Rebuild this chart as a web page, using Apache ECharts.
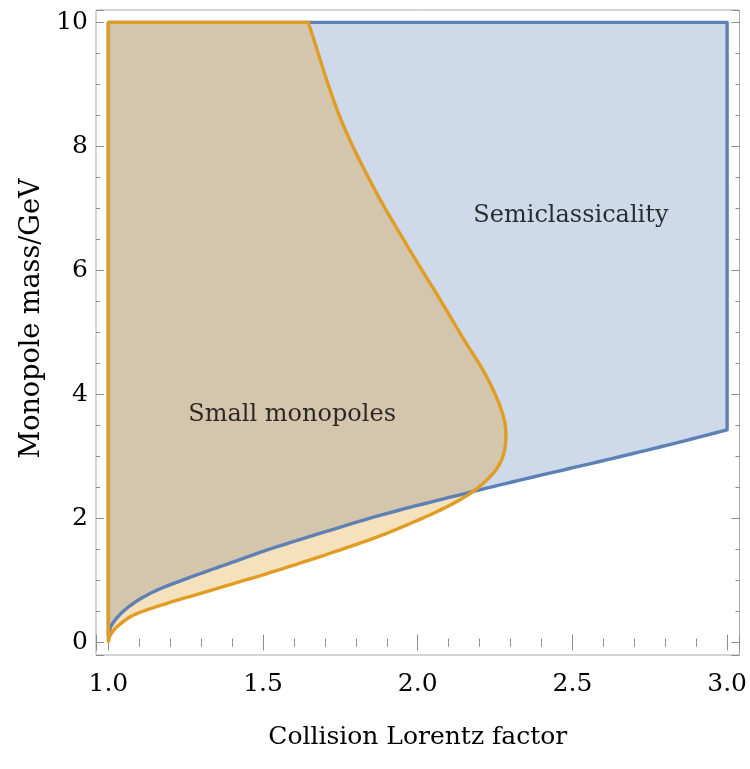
<!DOCTYPE html>
<html>
<head>
<meta charset="utf-8">
<script src="https://cdn.jsdelivr.net/npm/echarts@6/dist/echarts.min.js"></script>
<style>
  html, body { margin: 0; background: #fff; }
  #chart { width: 750px; height: 769px; }
</style>
</head>
<body>
<div id="chart"></div>
<script>
// semiclassical region: lower edge (gamma, mass/GeV), then the straight right/top edges
const semiLower = [
  [1.0, 0.10], [1.008, 0.26], [1.037, 0.45], [1.080, 0.63], [1.134, 0.79],
  [1.188, 0.91], [1.296, 1.11], [1.404, 1.30], [1.511, 1.49], [1.619, 1.66],
  [1.877, 2.05], [2.158, 2.41], [2.373, 2.67], [2.588, 2.92], [2.804, 3.18],
  [3.0, 3.43]
];
const semiCorners = [[3.0, 10], [1.0, 10]];

// small monopole region: lower branch to the nose, then upper branch to the top
const smallLower = [
  [1.0, 0.02], [1.005, 0.11], [1.027, 0.25], [1.080, 0.44], [1.188, 0.63],
  [1.296, 0.79], [1.404, 0.95], [1.511, 1.11], [1.619, 1.28], [1.770, 1.53],
  [1.878, 1.72], [1.985, 1.94], [2.082, 2.16], [2.174, 2.42], [2.244, 2.73],
  [2.275, 3.00], [2.285, 3.32]
];
const smallUpper = [
  [2.279, 3.60], [2.255, 3.95], [2.210, 4.40], [2.150, 4.88], [2.070, 5.55],
  [1.974, 6.33], [1.856, 7.35], [1.748, 8.48], [1.646, 10.0]
];
const smallCorners = [[1.0, 10.0]];

const regionLabels = [
  { name: 'Semiclassicality', value: [2.495, 6.89] },
  { name: 'Small monopoles', value: [1.594, 3.67] }
];

const xTitle = 'Collision Lorentz factor';
const yTitle = 'Monopole mass/GeV';

const font = 'DejaVu Serif';
const frameColor = '#ababab';
const tickColor = '#8c8c8c';
const blue = '#5e81b5';
const orange = '#e19c24';

const isStep = (v, step) => Math.abs(v / step - Math.round(v / step)) < 1e-6;

// Hermite curve through pixel points, tangents scaled by chord length
function smoothPx(p, steps) {
  const out = [p[0]];
  const d = (a, b) => Math.hypot(b[0] - a[0], b[1] - a[1]) || 1e-6;
  for (let i = 0; i < p.length - 1; i++) {
    const p0 = p[i - 1] || p[i], p1 = p[i], p2 = p[i + 1], p3 = p[i + 2] || p[i + 1];
    const d12 = d(p1, p2);
    const k1 = i > 0 ? d12 / (d(p0, p1) + d12) : 1;
    const k2 = i < p.length - 2 ? d12 / (d12 + d(p2, p3)) : 1;
    const m1 = [(p2[0] - p0[0]) * k1, (p2[1] - p0[1]) * k1];
    const m2 = [(p3[0] - p1[0]) * k2, (p3[1] - p1[1]) * k2];
    for (let s = 1; s <= steps; s++) {
      const t = s / steps, t2 = t * t, t3 = t2 * t;
      const h00 = 2 * t3 - 3 * t2 + 1, h10 = t3 - 2 * t2 + t;
      const h01 = -2 * t3 + 3 * t2, h11 = t3 - t2;
      out.push([
        h00 * p1[0] + h10 * m1[0] + h01 * p2[0] + h11 * m2[0],
        h00 * p1[1] + h10 * m1[1] + h01 * p2[1] + h11 * m2[1]
      ]);
    }
  }
  return out;
}

const outline = (api, curve, corners) =>
  smoothPx(curve.map(p => api.coord(p)), 10).concat(corners.map(p => api.coord(p)));

const fillSeries = (curve, corners, fill, z) => ({
  type: 'custom', data: [0], silent: true, z,
  renderItem: (params, api) => ({
    type: 'polygon',
    shape: { points: outline(api, curve, corners) },
    style: { fill }
  })
});

const edgeSeries = (curve, corners, stroke, z) => ({
  type: 'custom', data: [0], silent: true, z,
  renderItem: (params, api) => {
    const pts = outline(api, curve, corners);
    return {
      type: 'polyline',
      shape: { points: pts.concat([pts[0]]) },
      style: { fill: null, stroke, lineWidth: 3.4, lineCap: 'round', lineJoin: 'round' }
    };
  }
});

const xAxisCfg = (position, showLabels) => ({
  type: 'value', position, min: 0.96, max: 3.04,
  splitNumber: 4, minInterval: 0.5, maxInterval: 0.5,
  axisLine: { show: false }, splitLine: { show: false },
  axisTick: { show: true, inside: true, length: 8, lineStyle: { color: tickColor } },
  minorTick: { show: true, splitNumber: 5, length: 4, lineStyle: { color: tickColor } },
  axisLabel: {
    show: showLabels, margin: 17, color: '#000', fontFamily: font, fontSize: 25,
    formatter: v => (isStep(v, 0.5) ? v.toFixed(1) : '')
  },
  name: showLabels ? xTitle : '', nameLocation: 'middle', nameGap: 70,
  nameTextStyle: { fontFamily: font, fontSize: 25, color: '#000' }
});

const yAxisCfg = (position, showLabels) => ({
  type: 'value', position, min: -0.2, max: 10.2,
  splitNumber: 5, minInterval: 2, maxInterval: 2,
  axisLine: { show: false }, splitLine: { show: false },
  axisTick: { show: true, inside: true, length: 8, lineStyle: { color: tickColor } },
  minorTick: { show: true, splitNumber: 4, length: 4, lineStyle: { color: tickColor } },
  axisLabel: {
    show: showLabels, margin: 8, color: '#000', fontFamily: font, fontSize: 25,
    formatter: v => (isStep(v, 2) ? String(Math.round(v)) : '')
  },
  name: showLabels ? yTitle : '', nameLocation: 'middle', nameGap: 48,
  nameTextStyle: { fontFamily: font, fontSize: 27, color: '#000', padding: [0, 0, 0, 28] }
});

const chart = echarts.init(document.getElementById('chart'));
chart.setOption({
  animation: false,
  backgroundColor: '#fff',
  grid: { left: 96, right: 9, top: 10, bottom: 114, show: true, borderColor: frameColor, borderWidth: 1 },
  xAxis: [xAxisCfg('bottom', true), xAxisCfg('top', false)],
  yAxis: [yAxisCfg('left', true), yAxisCfg('right', false)],
  series: [
    fillSeries(semiLower, semiCorners, 'rgba(94,129,181,0.3)', 2),
    fillSeries(smallLower.concat(smallUpper), smallCorners, 'rgba(225,156,36,0.3)', 3),
    edgeSeries(semiLower, semiCorners, blue, 4),
    edgeSeries(smallLower.concat(smallUpper), smallCorners, orange, 5),
    {
      type: 'scatter',
      data: regionLabels,
      symbolSize: 0,
      silent: true,
      z: 6,
      label: {
        show: true, position: 'inside', formatter: '{b}',
        fontFamily: font, fontSize: 24, color: '#000'
      }
    }
  ]
});
</script>
</body>
</html>
